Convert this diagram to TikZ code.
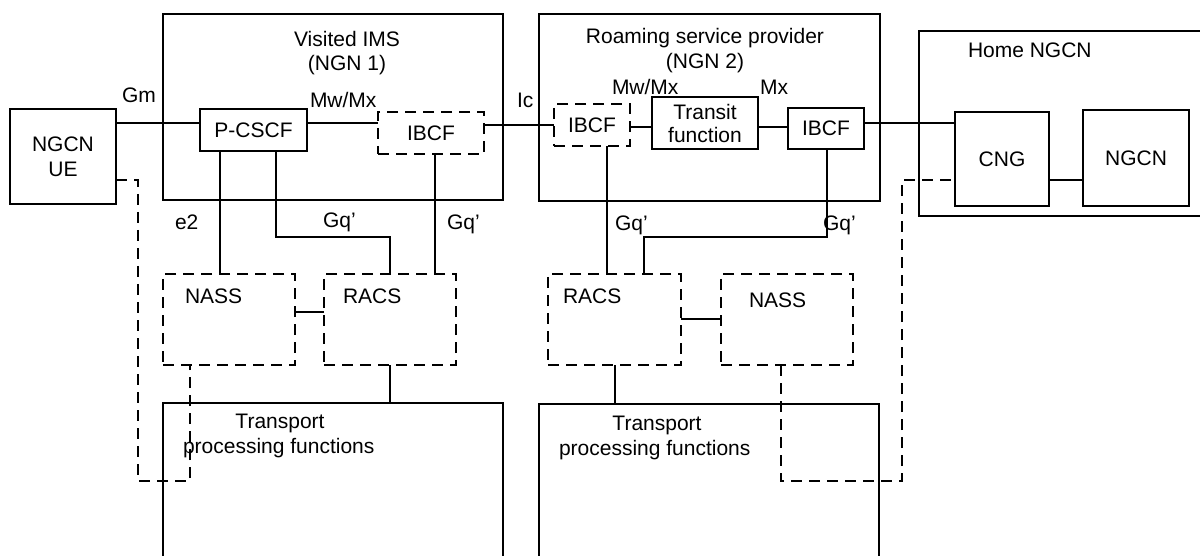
\documentclass[tikz,border=0pt]{standalone}
\usepackage{fontspec}
\setmainfont{Liberation Sans}
\begin{document}
\begin{tikzpicture}[x=1pt,y=-1pt,
  every node/.style={font=\fontsize{21}{25}\selectfont, inner sep=0pt, outer sep=0pt},
  box/.style={draw, line width=1.3pt, anchor=north west, align=center},
  dbox/.style={box, dash pattern=on 11pt off 7pt},
  ln/.style={line width=1.3pt},
  dln/.style={line width=1.3pt, dash pattern=on 11pt off 7pt},
  lbl/.style={anchor=base west},
  clbl/.style={anchor=base}]
\useasboundingbox (0,0) rectangle (1200,556);
\clip (0,0) rectangle (1200,556);
\fill[white] (0,0) rectangle (1200,556);
% boxes
\node[box, minimum width=340pt, minimum height=186pt] (vis) at (163,14) {};
\node[box, minimum width=341pt, minimum height=187pt] (roam) at (539,14) {};
\node[box, minimum width=320pt, minimum height=185pt] (home) at (919,31) {};
\node[box, minimum width=106pt, minimum height=95pt] (ue) at (10,109) {NGCN\\UE};
\node[box, minimum width=107pt, minimum height=42pt] (pcscf) at (200,109) {P-CSCF};
\node[dbox, minimum width=106pt, minimum height=42pt] (ibcf1) at (378,112) {IBCF};
\node[dbox, minimum width=76pt, minimum height=42pt] (ibcf2) at (554,104) {IBCF};
\node[box, minimum width=106pt, minimum height=52pt, font=\fontsize{21}{23}\selectfont] (transit) at (652,97) {Transit\\function};
\node[box, minimum width=76pt, minimum height=41pt] (ibcf3) at (788,108) {IBCF};
\node[box, minimum width=94pt, minimum height=94pt] (cng) at (955,112) {CNG};
\node[box, minimum width=106pt, minimum height=96pt] (ngcn) at (1083,110) {NGCN};
\node[dbox, minimum width=132pt, minimum height=91pt] (nass1) at (163,274) {};
\node[dbox, minimum width=132pt, minimum height=91pt] (racs1) at (324,274) {};
\node[dbox, minimum width=133pt, minimum height=91pt] (racs2) at (548,274) {};
\node[dbox, minimum width=132pt, minimum height=91pt] (nass2) at (721,274) {};
\node[box, minimum width=340pt, minimum height=200pt] (tp1) at (163,403) {};
\node[box, minimum width=340pt, minimum height=200pt] (tp2) at (539,404) {};
% connectors
\draw[ln] (ue.east |- 0,123) -- (pcscf.west |- 0,123);
\draw[ln] (pcscf.east |- 0,123) -- (ibcf1.west |- 0,123);
\draw[ln] (ibcf1.east |- 0,125) -- (ibcf2.west |- 0,125);
\draw[ln] (ibcf2.east |- 0,127) -- (transit.west |- 0,127);
\draw[ln] (transit.east |- 0,127) -- (ibcf3.west |- 0,127);
\draw[ln] (ibcf3.east |- 0,123) -- (cng.west |- 0,123);
\draw[ln] (cng.east |- 0,180) -- (ngcn.west |- 0,180);
\draw[ln] (pcscf.south -| 220,0) -- (nass1.north -| 220,0);
\draw[ln] (pcscf.south -| 276,0) |- (390,237) -- (racs1.north -| 390,0);
\draw[ln] (ibcf1.south -| 435,0) -- (racs1.north -| 435,0);
\draw[ln] (nass1.east |- 0,312) -- (racs1.west |- 0,312);
\draw[ln] (racs1.south -| 390,0) -- (tp1.north -| 390,0);
\draw[dln] (ue.east |- 0,180) -| (138,481) -| (nass1.south -| 190,0);
\draw[ln] (ibcf2.south -| 607,0) -- (racs2.north -| 607,0);
\draw[ln] (ibcf3.south -| 827,0) |- (644,237) -- (racs2.north -| 644,0);
\draw[ln] (racs2.east |- 0,319) -- (nass2.west |- 0,319);
\draw[ln] (racs2.south -| 615,0) -- (tp2.north -| 615,0);
\draw[dln] (nass2.south -| 781,0) |- (902,481) |- (cng.west |- 0,180);
% labels
\node[lbl] (gm) at (122,103) {Gm};
\node[lbl] (mw1) at (310,108) {Mw/Mx};
\node[clbl] (vis1) at (347,47) {Visited IMS};
\node[clbl] (vis2) at (347,71) {(NGN 1)};
\node[lbl] (e2) at (175,230) {e2};
\node[lbl] (gq1) at (323,228) {Gq'};
\node[lbl] (gq2) at (447,230) {Gq'};
\node[clbl] (r1) at (705,44) {Roaming service provider};
\node[clbl] (r2) at (705,69) {(NGN 2)};
\node[lbl] (ic) at (517,108) {Ic};
\node[lbl] (mw2) at (612,95) {Mw/Mx};
\node[lbl] (mx) at (760,95) {Mx};
\node[lbl] (gq3) at (615,231) {Gq'};
\node[lbl] (gq4) at (823,231) {Gq'};
\node[lbl] (hn) at (968,58) {Home NGCN};
\node[lbl] (nasst1) at (185,303) {NASS};
\node[lbl] (racst1) at (343,303) {RACS};
\node[lbl] (racst2) at (563,303) {RACS};
\node[lbl] (nasst2) at (749,307) {NASS};
\node[clbl] (tpa1) at (280,428) {Transport};
\node[lbl] (tpb1) at (183,453) {processing functions};
\node[clbl] (tpa2) at (657,430) {Transport};
\node[lbl] (tpb2) at (559,455) {processing functions};
\end{tikzpicture}
\end{document}
